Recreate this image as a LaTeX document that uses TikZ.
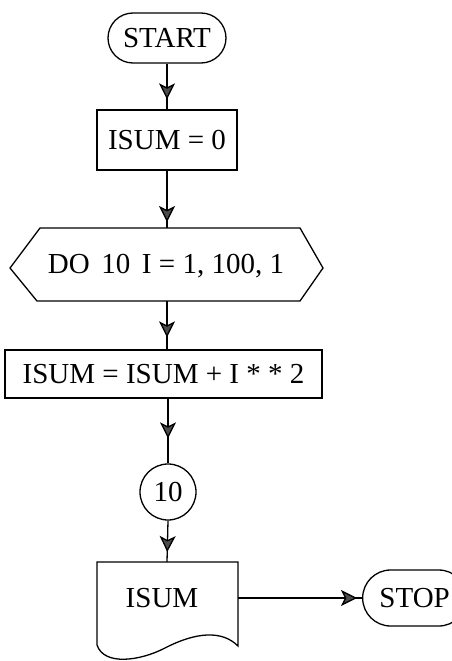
\documentclass[tikz,border=0pt]{standalone}
\usepackage{fontspec}
\setmainfont{Liberation Serif}
\usetikzlibrary{shapes.misc,arrows.meta,decorations.markings,calc}
\begin{document}
\begin{tikzpicture}[x=1pt,y=-1pt,
  font=\fontsize{29}{33}\selectfont,
  line width=1.3pt,
  term/.style={draw, rounded rectangle, inner sep=0pt},
  proc/.style={draw, rectangle, inner sep=0pt},
  conn/.style={postaction={decorate}, decoration={markings,
    mark=at position #1 with {\arrow{Stealth[length=16pt,width=16pt,inset=4pt,fill=black!70]}}}},
]
\fill[white] (0,0) rectangle (451,661);
\useasboundingbox (0,0) rectangle (451,661);

\node[term, minimum width=118pt, minimum height=50pt] (start) at (167,38) {START};
\node[proc, minimum width=140pt, minimum height=60pt] (init) at (167,140) {ISUM = 0};

\draw (10,268) -- (40,228) -- (300,228) -- (323,268) -- (300,301) -- (37,301) -- cycle;
\coordinate (hexN) at (167,228);
\coordinate (hexS) at (167,301);
\node (do) at (166,266) {DO\hspace{0.4em}10\hspace{0.4em}I = 1, 100, 1};

\node[proc, minimum width=317pt, minimum height=48pt] (sum) at (163.5,374) {ISUM = ISUM + I * * 2};
\node[draw, circle, minimum size=56pt, inner sep=0pt] (ten) at (168,492) {10};

\coordinate (docN) at (167,562);
\coordinate (docE) at (238,598);
\draw (97,562) -- (238,562) -- (238,646)
  .. controls (222,630) and (196,632) .. (165,648)
  .. controls (140,661) and (104,666) .. (97,645) -- cycle;
\node (out) at (162,598) {ISUM};

\node[term, minimum width=104pt, minimum height=56pt, anchor=west] (stop) at (362,598) {STOP};

\draw[conn=-10pt] (start.south) -- (init.north);
\draw[conn=-6pt] (init.south) -- (hexN);
\draw[conn=-12pt] (hexS) -- (hexS |- sum.north);
\draw[conn=-25pt] (ten |- sum.south) -- (ten.north);
\draw[conn=-10pt] (ten.south) -- (docN);
\draw[conn=-5pt] (docE) -- (stop.west);
\end{tikzpicture}
\end{document}
